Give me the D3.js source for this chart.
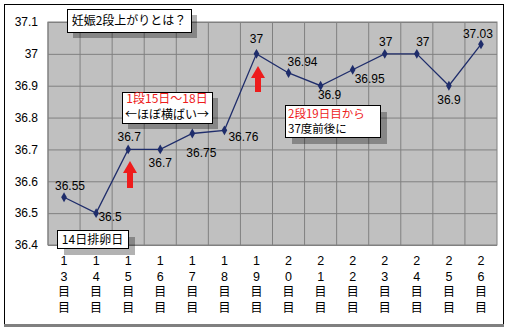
<!DOCTYPE html>
<html>
<head>
	<meta charset="utf-8">
	<title>D3</title>
	<script type="text/javascript" src="https://d3js.org/d3.v7.min.js"></script>
	<style>
		body { margin: 0; background: #fff; }
		text { font-family: "Liberation Sans", Arial, sans-serif; font-size: 12px; }
		.jp { font-family: "Noto Sans CJK JP", sans-serif; }
	</style>
</head>

<body>
	<div id="chart"></div>
	<script>
	// data
	var days = ["13", "14", "15", "16", "17", "18", "19", "20", "21", "22", "23", "24", "25", "26"];
	var temps = [36.55, 36.5, 36.7, 36.7, 36.75, 36.76, 37, 36.94, 36.9, 36.95, 37, 37, 36.9, 37.03];
	var yTicks = [36.4, 36.5, 36.6, 36.7, 36.8, 36.9, 37, 37.1];

	// label offsets from each point (dx, dy of baseline)
	var labelOff = [[6, -7], [14, 8], [1, -8], [0, 18], [9, 23], [19, 11], [0, -11], [14, -7], [9, 13], [17, 13], [1, -8], [6, -8], [0, 18], [-3, -6]];

	var width = 510, height = 331;
	var x0 = 48, x1 = 497, y0 = 22, y1 = 245;

	var svg = d3.select("#chart")
				.append("svg")
					.attr("width", width)
					.attr("height", height);

	// outer frame
	svg.append("rect")
		.attr("x", 4.5).attr("y", 4.5)
		.attr("width", 499).attr("height", 320)
		.attr("fill", "#fff").attr("stroke", "#000");
	svg.append("rect")
		.attr("x", 4).attr("y", 324)
		.attr("width", 500).attr("height", 3)
		.attr("fill", "#808080");

	var x = d3.scaleBand().domain(days).range([x0, x1]);
	var y = d3.scaleLinear().domain([36.4, 37.1]).range([y1, y0]);

	svg.append("rect")
		.attr("x", x0).attr("y", y0)
		.attr("width", x1 - x0).attr("height", y1 - y0)
		.attr("fill", "#c0c0c0");

	// grid
	svg.append("g")
		.attr("transform", "translate(0," + y1 + ")")
		.call(d3.axisBottom(x).tickSize(-(y1 - y0)).tickFormat(""))
		.call(function(g){
			g.select(".domain").remove();
			g.selectAll(".tick line")
				.attr("stroke", "#808080")
				.attr("transform", "translate(" + (-x.bandwidth() / 2) + ",0)");
		});
	svg.append("g")
		.attr("transform", "translate(" + x0 + ",0)")
		.call(d3.axisLeft(y).tickValues(yTicks).tickSize(-(x1 - x0)).tickFormat(d3.format("")))
		.call(function(g){
			g.select(".domain").remove();
			g.selectAll(".tick line").attr("stroke", "#808080");
			g.selectAll(".tick text")
				.attr("x", -10)
				.attr("fill", "#000")
				.style("font-size", "12px");
		});
	svg.append("rect")
		.attr("x", x0).attr("y", y0)
		.attr("width", x1 - x0).attr("height", y1 - y0)
		.attr("fill", "none").attr("stroke", "#808080");

	// x labels, stacked vertically
	var xl = svg.append("g").selectAll("g")
		.data(days)
		.enter()
		.append("g")
		.attr("transform", function(d){ return "translate(" + (x(d) + x.bandwidth() / 2) + ",0)"; });
	xl.each(function(d){
		var chars = [d[0], d[1], "目", "目"];
		d3.select(this).selectAll("text")
			.data(chars)
			.enter()
			.append("text")
			.attr("class", function(c, i){ return i > 1 ? "jp" : null; })
			.attr("text-anchor", "middle")
			.attr("y", function(c, i){ return 265 + i * 15.5; })
			.style("font-size", function(c, i){ return i > 1 ? "12px" : "12.5px"; })
			.text(function(c){ return c; });
	});

	// line
	var cx = function(d, i){ return x(days[i]) + x.bandwidth() / 2; };
	var line = d3.line()
			.x(function(d, i){ return cx(d, i); })
			.y(function(d){ return y(d); });

	svg.append("path")
		.datum(temps)
		.attr("d", line)
		.attr("fill", "none")
		.attr("stroke", "#1f2d6b")
		.attr("stroke-width", 1.3);

	svg.append("g").selectAll("path")
		.data(temps)
		.enter()
		.append("path")
		.attr("d", d3.symbol().type(d3.symbolDiamond).size(28))
		.attr("transform", function(d, i){ return "translate(" + cx(d, i) + "," + y(d) + ")"; })
		.attr("fill", "#1f2d6b");

	svg.append("g").selectAll("text")
		.data(temps)
		.enter()
		.append("text")
		.attr("text-anchor", "middle")
		.attr("x", function(d, i){ return cx(d, i) + labelOff[i][0]; })
		.attr("y", function(d, i){ return y(d) + labelOff[i][1]; })
		.text(function(d){ return d; });

	// red arrows
	function arrow(px, top, bottom){
		var hw = 7, sw = 3, hb = top + 12;
		svg.append("path")
			.attr("d", "M" + px + "," + top + "L" + (px + hw) + "," + hb + "L" + (px + sw) + "," + hb +
				"L" + (px + sw) + "," + bottom + "L" + (px - sw) + "," + bottom + "L" + (px - sw) + "," + hb +
				"L" + (px - hw) + "," + hb + "Z")
			.attr("fill", "#ee1c1c");
	}
	arrow(130, 161, 188);
	arrow(258, 66, 92);

	// callout boxes
	function box(bx, by, bw, bh, sh){
		svg.append("rect")
			.attr("x", bx + sh).attr("y", by + sh)
			.attr("width", bw).attr("height", bh)
			.attr("fill", "#000").attr("opacity", 0.3);
		svg.append("rect")
			.attr("x", bx + 0.5).attr("y", by + 0.5)
			.attr("width", bw).attr("height", bh)
			.attr("fill", "#fff").attr("stroke", "#000");
	}

	box(67, 9, 124, 23, 6);
	svg.append("text").attr("class", "jp")
		.attr("x", 129).attr("y", 25).attr("text-anchor", "middle")
		.text("妊娠2段上がりとは？");

	box(122, 92, 90, 31, 6);
	svg.append("text").attr("class", "jp")
		.attr("x", 167).attr("y", 103).attr("text-anchor", "middle")
		.attr("fill", "#ee1c1c")
		.text("1段15日～18日");
	svg.append("text").attr("class", "jp")
		.attr("x", 167).attr("y", 119).attr("text-anchor", "middle")
		.text("←ほぼ横ばい→");

	box(285, 105, 95, 32, 7);
	svg.append("text").attr("class", "jp")
		.attr("x", 288).attr("y", 118)
		.attr("fill", "#ee1c1c")
		.style("font-size", "11.5px")
		.text("2段19日目から");
	svg.append("text").attr("class", "jp")
		.attr("x", 288).attr("y", 133)
		.style("font-size", "11.5px")
		.text("37度前後に");

	box(57, 230, 71, 18, 7);
	svg.append("text").attr("class", "jp")
		.attr("x", 92.5).attr("y", 244).attr("text-anchor", "middle")
		.text("14日排卵日");

	</script>

</body>
</html>
